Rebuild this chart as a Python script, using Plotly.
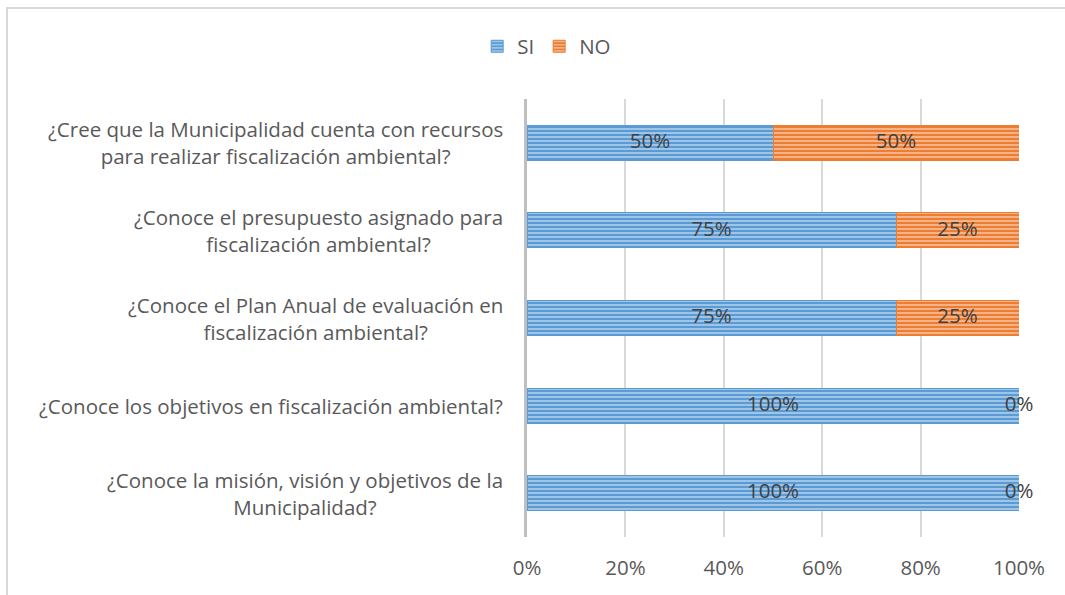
import plotly.graph_objects as go

# preguntas de arriba hacia abajo
preguntas = [
    "¿Cree que la Municipalidad cuenta con recursos<br>para realizar fiscalización ambiental?",
    "¿Conoce el presupuesto asignado para<br>fiscalización ambiental?",
    "¿Conoce el Plan Anual de evaluación en<br>fiscalización ambiental?",
    "¿Conoce los objetivos en fiscalización ambiental?",
    "¿Conoce la misión, visión y objetivos de la<br>Municipalidad?",
]
si = [0.50, 0.75, 0.75, 1.00, 1.00]
no = [0.50, 0.25, 0.25, 0.00, 0.00]

FONT = "Open Sans"
GRIS = "#595959"
SIZE = 20.5

fig = go.Figure()

fig.add_trace(go.Bar(
    y=preguntas, x=si, name="SI", orientation="h", width=0.4,
    marker=dict(color="#5B9BD5", line=dict(color="#5B9BD5", width=1),
                pattern=dict(shape="-", bgcolor="#5B9BD5", fgcolor="#BDD7EE",
                             size=4, solidity=0.35, fillmode="replace")),
))
fig.add_trace(go.Bar(
    y=preguntas, x=no, name="NO", orientation="h", width=0.4,
    marker=dict(color="#ED7D31", line=dict(color="#ED7D31", width=1),
                pattern=dict(shape="-", bgcolor="#ED7D31", fgcolor="#F8CBAD",
                             size=4, solidity=0.35, fillmode="replace")),
))

# etiquetas de datos en el centro de cada segmento
mid_si = [v / 2 for v in si]
mid_no = [s + n / 2 for s, n in zip(si, no)]
fig.add_trace(go.Scatter(
    y=preguntas + preguntas, x=mid_si + mid_no, mode="text",
    text=[f"{v:.0%}" for v in si + no],
    textfont=dict(family=FONT, size=SIZE, color="#404040"),
    showlegend=False, hoverinfo="skip", cliponaxis=False,
))

# preguntas como anotaciones centradas
for p in preguntas:
    fig.add_annotation(
        x=0, xref="paper", y=p, yref="y", xanchor="right", xshift=-22,
        text=p, showarrow=False, align="center",
        font=dict(family=FONT, size=SIZE, color=GRIS),
    )

fig.update_layout(
    width=1065, height=595,
    margin=dict(l=527, r=46, t=99, b=58),
    barmode="stack",
    paper_bgcolor="white", plot_bgcolor="white",
    font=dict(family=FONT, size=SIZE, color=GRIS),
    legend=dict(orientation="h", x=0.04, xanchor="center", y=1.12, yanchor="middle",
                font=dict(family=FONT, size=SIZE, color=GRIS),
                itemwidth=30, traceorder="normal"),
    shapes=[dict(type="rect", xref="paper", yref="paper",
                 x0=-1.0569, x1=1.2, y0=-0.3, y1=1.2078,
                 line=dict(color="#D9D9D9", width=2), layer="below")],
)
fig.update_xaxes(range=[0, 1], tickformat=".0%", dtick=0.2, showgrid=True,
                 gridcolor="#D9D9D9", gridwidth=2, zeroline=False, ticks="",
                 ticklabelstandoff=16, tickfont=dict(family=FONT, size=SIZE, color=GRIS))
fig.update_yaxes(autorange="reversed", showticklabels=False, showline=True,
                 linecolor="#BFBFBF", linewidth=3, ticks="", showgrid=False)

fig.write_html("out.html", config={"displayModeBar": False},
               post_script="document.body.style.margin='0';")
